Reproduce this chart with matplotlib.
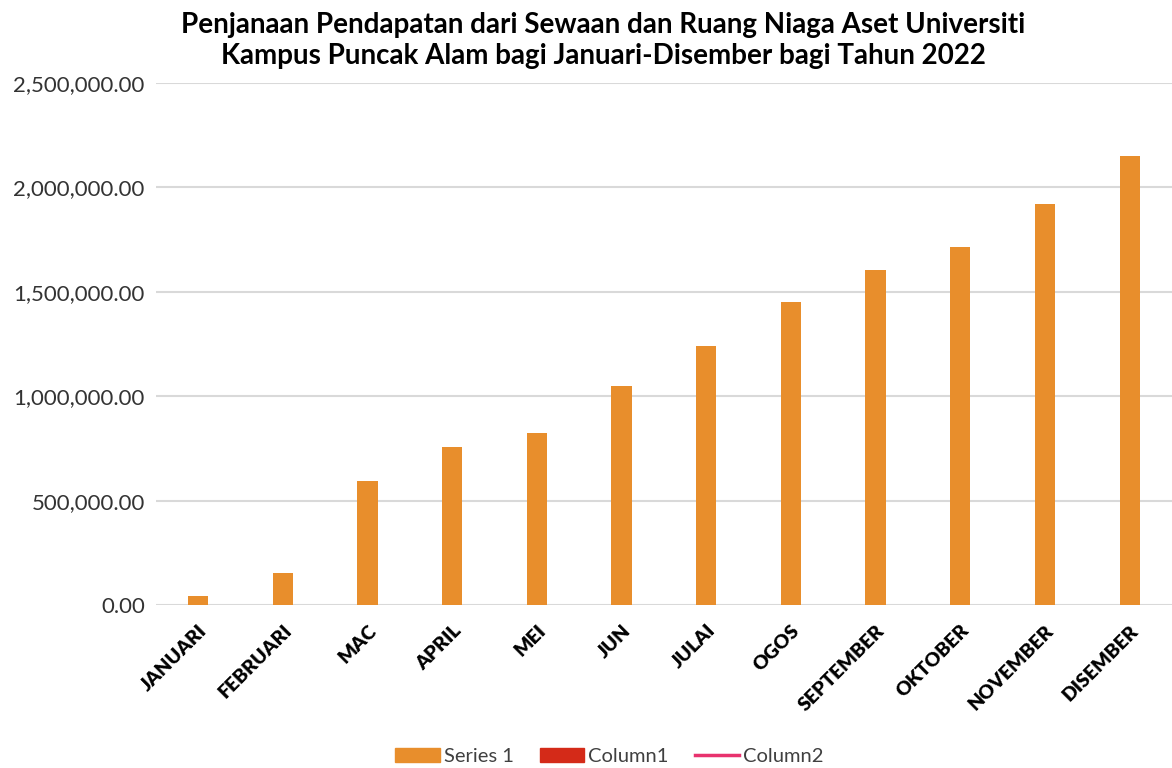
import matplotlib.pyplot as plt
from matplotlib.patches import Patch
from matplotlib.lines import Line2D
from matplotlib.ticker import FuncFormatter

bulan = ['JANUARI', 'FEBRUARI', 'MAC', 'APRIL', 'MEI', 'JUN', 'JULAI',
         'OGOS', 'SEPTEMBER', 'OKTOBER', 'NOVEMBER', 'DISEMBER']
series1 = [42000, 152000, 594000, 757000, 824000, 1049000, 1240000,
           1451000, 1604000, 1715000, 1920000, 2152000]
legend_labels = ['Series 1', 'Column1', 'Column2']

orange = '#E88E2C'
red = '#D42A18'
pink = '#E8326E'

plt.rcParams['font.family'] = ['Lato', 'DejaVu Sans']

fig = plt.figure(figsize=(11.72, 7.68), dpi=100)
ax = fig.add_axes([0.133, 0.212, 0.867, 0.68])

x = range(len(bulan))
ax.bar(x, series1, width=0.24, color=orange, zorder=3)

ax.set_xlim(-0.5, len(bulan) - 0.5)
ax.set_ylim(0, 2500000)
ax.set_yticks(range(0, 2500001, 500000))
ax.yaxis.set_major_formatter(FuncFormatter(lambda v, p: '{:,.2f}'.format(v)))
ax.grid(axis='y', color='#d9d9d9', linewidth=1.5, zorder=0)
for s in ax.spines.values():
    s.set_visible(False)
ax.tick_params(axis='both', length=0)
ax.tick_params(axis='y', labelsize=16, labelcolor='#333333', pad=8)

ax.set_xticks(list(x))
ax.set_xticklabels(bulan, rotation=45, ha='right', rotation_mode='anchor',
                   fontsize=14, fontweight='heavy', color='black')
ax.tick_params(axis='x', pad=12)

fig.text(0.515, 0.985, 'Penjanaan Pendapatan dari Sewaan dan Ruang Niaga Aset Universiti\n'
         'Kampus Puncak Alam bagi Januari-Disember bagi Tahun 2022',
         ha='center', va='top', fontsize=20, fontweight='bold',
         linespacing=1.25)

handles = [Patch(color=orange), Patch(color=red),
           Line2D([0], [0], color=pink, linewidth=2.5)]
fig.legend(handles, legend_labels, loc='lower center', bbox_to_anchor=(0.52, -0.02),
           ncol=3, frameon=False, fontsize=14.5, handlelength=2.2,
           handletextpad=0.2, columnspacing=1.3, labelcolor='#404040')

fig.savefig('out.png', dpi=100)
